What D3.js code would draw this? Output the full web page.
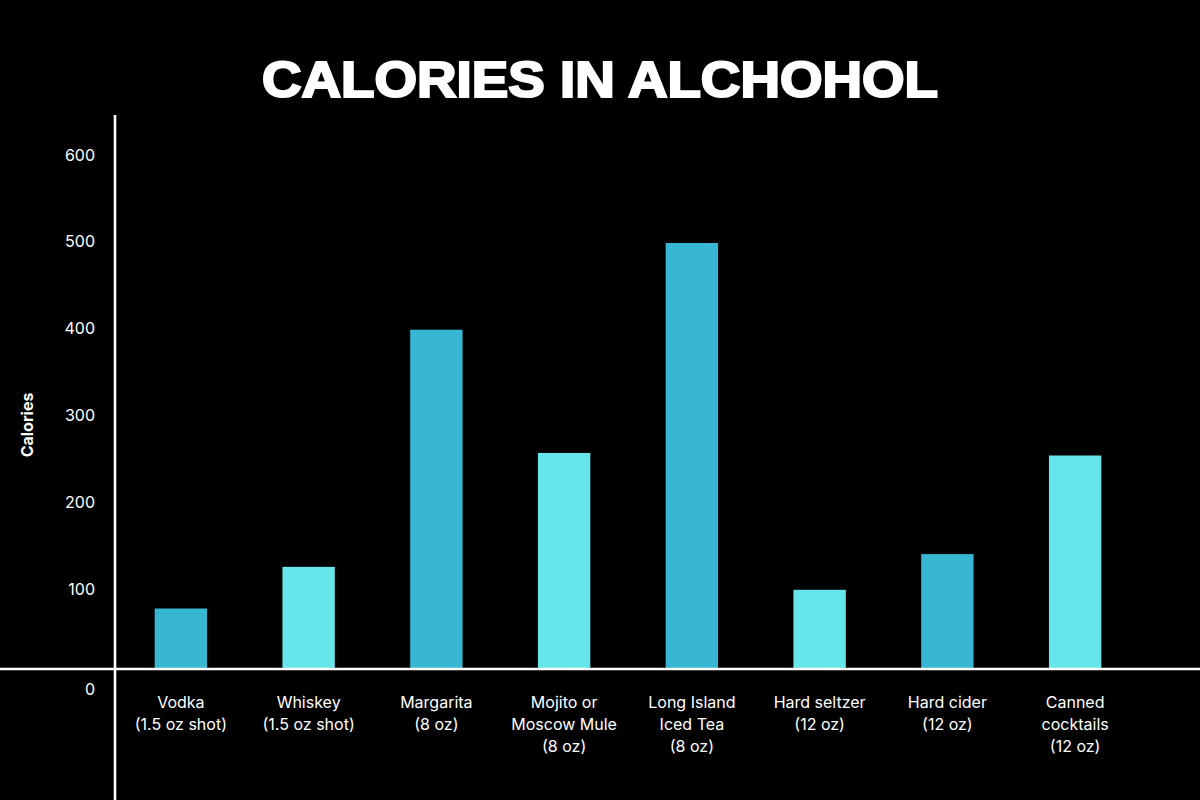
<!DOCTYPE html>
<html><head><meta charset="utf-8">
<script src="https://cdn.jsdelivr.net/npm/d3@7"></script>
<style>
html,body{margin:0;padding:0;background:#000;}
svg{display:block;}
</style></head>
<body>
<svg id="chart" width="1200" height="800"></svg>
<script>
const categories = [
  ["Vodka","(1.5 oz shot)"],
  ["Whiskey","(1.5 oz shot)"],
  ["Margarita","(8 oz)"],
  ["Mojito or","Moscow Mule","(8 oz)"],
  ["Long Island","Iced Tea","(8 oz)"],
  ["Hard seltzer","(12 oz)"],
  ["Hard cider","(12 oz)"],
  ["Canned","cocktails","(12 oz)"]
];
const calories = [70, 119, 398, 253, 500, 92, 134, 250];
const barColors = ["#38B7D2","#66E6EA","#38B7D2","#66E6EA","#38B7D2","#66E6EA","#38B7D2","#66E6EA"];
const yTicks = [0, 100, 200, 300, 400, 500, 600];
const titleText = "CALORIES IN ALCHOHOL";
const yTitle = "Calories";

const svg = d3.select("#chart");
svg.append("rect").attr("width",1200).attr("height",800).attr("fill","#000");

const keys = categories.map(c => c.join(" "));
const x = d3.scaleBand().domain(keys).range([117,1139]).paddingInner(0.59).paddingOuter(0.295);
const y = d3.scaleLinear().domain([0,600]).range([668,158]);
// label column positions (labels are evenly spaced in the reference, 0 sits below the baseline)
const yLab = d3.scaleLinear().domain([100,600]).range([589,155]);

// title
svg.append("text").attr("x",600).attr("y",97)
  .attr("text-anchor","middle")
  .attr("font-family","Liberation Sans, Arial, sans-serif")
  .attr("font-weight","bold").attr("font-size",50)
  .attr("fill","#fff").attr("stroke","#fff").attr("stroke-width",2.2)
  .attr("textLength",676).attr("lengthAdjust","spacingAndGlyphs")
  .text(titleText);

// bars
svg.append("g").selectAll("rect").data(calories).join("rect")
  .attr("x",(d,i)=>x(keys[i]))
  .attr("y",d=>y(d))
  .attr("width",x.bandwidth())
  .attr("height",d=>y(0)-y(d))
  .attr("fill",(d,i)=>barColors[i]);

// axis lines
svg.append("line").attr("x1",0).attr("x2",1200).attr("y1",669).attr("y2",669)
  .attr("stroke","#fff").attr("stroke-width",2.6);
svg.append("line").attr("x1",115).attr("x2",115).attr("y1",115).attr("y2",800)
  .attr("stroke","#fff").attr("stroke-width",2.6);

// y tick labels
svg.append("g").selectAll("text").data(yTicks).join("text")
  .attr("x",95)
  .attr("y",d=> d===0 ? 689 : yLab(d))
  .attr("dy","0.35em")
  .attr("text-anchor","end")
  .attr("font-family","Inter, sans-serif")
  .attr("font-size",16)
  .attr("fill","#fff")
  .text(d=>d);

// y title
svg.append("text")
  .attr("transform","translate(27,425) rotate(-90)")
  .attr("dy","0.35em")
  .attr("text-anchor","middle")
  .attr("font-family","Inter, sans-serif")
  .attr("font-weight","bold")
  .attr("font-size",16)
  .attr("fill","#fff")
  .text(yTitle);

// category labels
const cg = svg.append("g").selectAll("text").data(categories).join("text")
  .attr("text-anchor","middle")
  .attr("font-family","Inter, sans-serif")
  .attr("font-size",16)
  .attr("fill","#fff")
  .attr("transform",(d,i)=>`translate(${x(keys[i])+x.bandwidth()/2},702)`);
cg.selectAll("tspan").data(d=>d).join("tspan")
  .attr("x",0).attr("y",(d,j)=>j*22).attr("dy","0.35em")
  .text(d=>d);
</script>
</body></html>
